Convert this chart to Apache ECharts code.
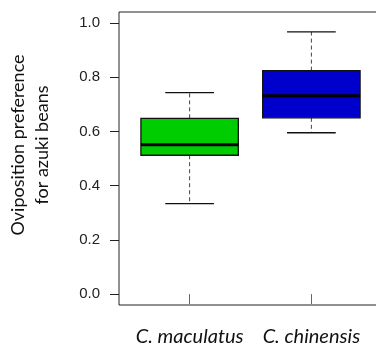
<!DOCTYPE html>
<html>
<head>
<meta charset="utf-8">
<script src="https://cdn.jsdelivr.net/npm/echarts@6/dist/echarts.min.js"></script>
<style>html,body{margin:0;padding:0;background:#fff;}#c{width:376px;height:345px;}</style>
</head>
<body>
<div id="c"></div>
<script>
const categories = ['C. maculatus', 'C. chinensis'];
const lowerWhisker = [0.334, 0.595];
const q1Values = [0.512, 0.650];
const medianValues = [0.551, 0.731];
const q3Values = [0.648, 0.824];
const upperWhisker = [0.743, 0.967];
const boxColors = ['#00CD00', '#0000CD'];
const yTicks = [0, 0.2, 0.4, 0.6, 0.8, 1.0];
const yTitleLines = ['Oviposition preference', 'for azuki beans'];

const data = categories.map((c, i) => [i + 1, lowerWhisker[i], q1Values[i], medianValues[i], q3Values[i], upperWhisker[i]]);

const chart = echarts.init(document.getElementById('c'), null, {renderer: 'canvas'});
const BOXW = 0.8, CAPW = 0.4;

chart.setOption({
  animation: false,
  grid: {left: 119, top: 12, width: 263, height: 293, containLabel: false, outerBoundsMode: 'none',
    show: true, borderColor: '#222', borderWidth: 1, backgroundColor: 'transparent'},
  xAxis: {
    type: 'value', min: 0.42, max: 2.58,
    axisLine: {show: false}, splitLine: {show: false},
    axisTick: {show: true, customValues: [1, 2], length: 10, lineStyle: {color: '#666', width: 1}},
    axisLabel: {customValues: [1, 2], formatter: v => categories[Math.round(v) - 1] || '', margin: 22,
      fontFamily: 'Lato', fontStyle: 'italic', fontSize: 20, color: '#111'}
  },
  yAxis: {
    type: 'value', min: -0.04, max: 1.04,
    axisLine: {show: false}, splitLine: {show: false},
    axisTick: {show: true, customValues: yTicks, length: 9, lineStyle: {color: '#222', width: 1}},
    axisLabel: {customValues: yTicks, formatter: v => v.toFixed(1), margin: 19,
      fontFamily: 'Liberation Sans', fontSize: 15, color: '#222'}
  },
  graphic: yTitleLines.map((t, i) => ({
    type: 'text', x: 18 + i * 24, y: 145, rotation: Math.PI / 2,
    style: {text: t, x: 0, y: 0, align: 'center', verticalAlign: 'middle', fontFamily: 'Lato', fontSize: 18, fill: '#111'}
  })),
  series: [{
    type: 'custom',
    coordinateSystem: 'cartesian2d',
    data: data,
    encode: {x: 0, y: [1, 2, 3, 4, 5]},
    renderItem: function (params, api) {
      const x = api.value(0);
      const lo = api.coord([x, api.value(1)]);
      const q1 = api.coord([x, api.value(2)]);
      const md = api.coord([x, api.value(3)]);
      const q3 = api.coord([x, api.value(4)]);
      const hi = api.coord([x, api.value(5)]);
      const bl = api.coord([x - BOXW / 2, 0])[0];
      const br = api.coord([x + BOXW / 2, 0])[0];
      const cl = api.coord([x - CAPW / 2, 0])[0];
      const cr = api.coord([x + CAPW / 2, 0])[0];
      const cx = lo[0];
      const dash = {stroke: '#444', lineWidth: 1, lineDash: [4, 3]};
      return {
        type: 'group',
        children: [
          {type: 'line', shape: {x1: cx, y1: q3[1], x2: cx, y2: hi[1]}, style: dash},
          {type: 'line', shape: {x1: cx, y1: q1[1], x2: cx, y2: lo[1]}, style: dash},
          {type: 'line', shape: {x1: cl, y1: hi[1], x2: cr, y2: hi[1]}, style: {stroke: '#111', lineWidth: 1.3}},
          {type: 'line', shape: {x1: cl, y1: lo[1], x2: cr, y2: lo[1]}, style: {stroke: '#111', lineWidth: 1.3}},
          {type: 'rect', shape: {x: bl, y: q3[1], width: br - bl, height: q1[1] - q3[1]},
            style: {fill: boxColors[params.dataIndex], stroke: '#111', lineWidth: 1.3}},
          {type: 'line', shape: {x1: bl, y1: md[1], x2: br, y2: md[1]}, style: {stroke: '#000', lineWidth: 3}}
        ]
      };
    }
  }]
});
</script>
</body>
</html>
